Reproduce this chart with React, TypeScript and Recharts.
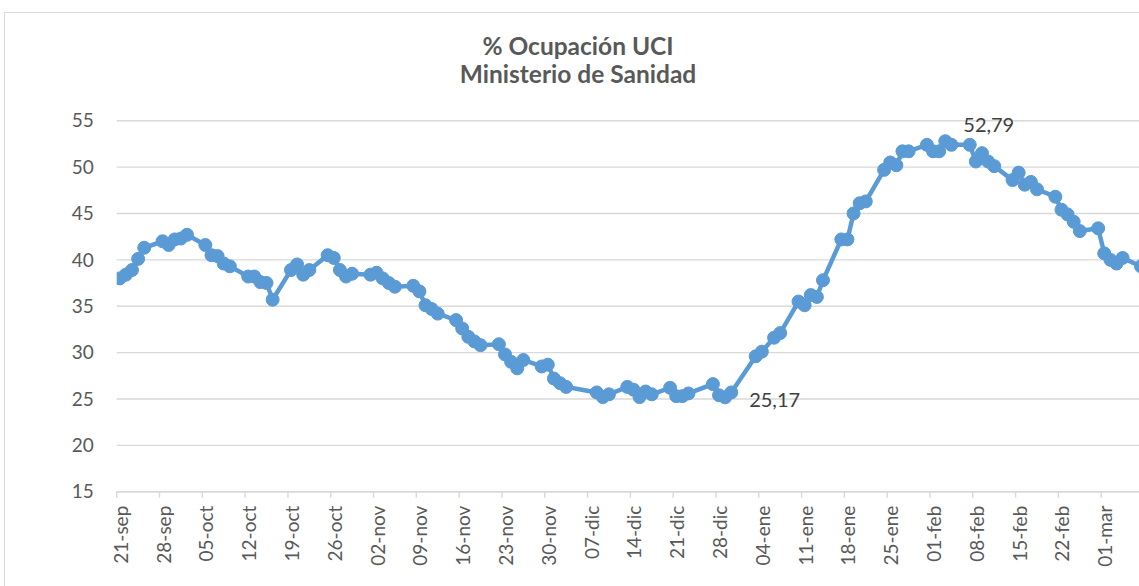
import { LineChart, Line, XAxis, YAxis, CartesianGrid, LabelList } from "recharts";

// % ocupación UCI, fechas de informe
const fechas = [
  "2020-09-21", "2020-09-22", "2020-09-23", "2020-09-24", "2020-09-25",
  "2020-09-28", "2020-09-29", "2020-09-30", "2020-10-01", "2020-10-02",
  "2020-10-05", "2020-10-06", "2020-10-07", "2020-10-08", "2020-10-09",
  "2020-10-12", "2020-10-13", "2020-10-14", "2020-10-15", "2020-10-16",
  "2020-10-19", "2020-10-20", "2020-10-21", "2020-10-22",
  "2020-10-25", "2020-10-26", "2020-10-27", "2020-10-28", "2020-10-29",
  "2020-11-01", "2020-11-02", "2020-11-03", "2020-11-04", "2020-11-05",
  "2020-11-08", "2020-11-09", "2020-11-10", "2020-11-11", "2020-11-12",
  "2020-11-15", "2020-11-16", "2020-11-17", "2020-11-18", "2020-11-19",
  "2020-11-22", "2020-11-23", "2020-11-24", "2020-11-25", "2020-11-26",
  "2020-11-29", "2020-11-30", "2020-12-01", "2020-12-02", "2020-12-03",
  "2020-12-08", "2020-12-09", "2020-12-10",
  "2020-12-13", "2020-12-14", "2020-12-15", "2020-12-16", "2020-12-17",
  "2020-12-20", "2020-12-21", "2020-12-22", "2020-12-23",
  "2020-12-27", "2020-12-28", "2020-12-29", "2020-12-30",
  "2021-01-03", "2021-01-04", "2021-01-06", "2021-01-07",
  "2021-01-10", "2021-01-11", "2021-01-12", "2021-01-13", "2021-01-14",
  "2021-01-17", "2021-01-18", "2021-01-19", "2021-01-20", "2021-01-21",
  "2021-01-24", "2021-01-25", "2021-01-26", "2021-01-27", "2021-01-28",
  "2021-01-31", "2021-02-01", "2021-02-02", "2021-02-03", "2021-02-04",
  "2021-02-07", "2021-02-08", "2021-02-09", "2021-02-10", "2021-02-11",
  "2021-02-14", "2021-02-15", "2021-02-16", "2021-02-17", "2021-02-18",
  "2021-02-21", "2021-02-22", "2021-02-23", "2021-02-24", "2021-02-25",
  "2021-02-28", "2021-03-01", "2021-03-02", "2021-03-03", "2021-03-04",
  "2021-03-07",
];

const ocupacion = [
  38.0, 38.4, 38.9, 40.1, 41.3,
  42.0, 41.6, 42.2, 42.3, 42.7,
  41.6, 40.5, 40.4, 39.6, 39.3,
  38.2, 38.2, 37.6, 37.5, 35.7,
  38.9, 39.5, 38.4, 38.9,
  40.5, 40.2, 38.9, 38.2, 38.5,
  38.4, 38.6, 38.0, 37.5, 37.1,
  37.2, 36.6, 35.1, 34.7, 34.2,
  33.5, 32.6, 31.7, 31.2, 30.8,
  30.9, 29.8, 29.0, 28.3, 29.2,
  28.5, 28.7, 27.2, 26.7, 26.3,
  25.7, 25.2, 25.5,
  26.3, 26.0, 25.2, 25.8, 25.5,
  26.2, 25.3, 25.3, 25.6,
  26.6, 25.4, 25.17, 25.7,
  29.6, 30.1, 31.6, 32.1,
  35.5, 35.1, 36.2, 36.0, 37.8,
  42.2, 42.2, 45.0, 46.1, 46.3,
  49.7, 50.5, 50.2, 51.7, 51.7,
  52.4, 51.7, 51.7, 52.79, 52.4,
  52.4, 50.6, 51.5, 50.6, 50.1,
  48.6, 49.4, 48.1, 48.4, 47.6,
  46.8, 45.4, 44.9, 44.1, 43.1,
  43.4, 40.7, 40.0, 39.6, 40.2,
  39.3,
];

const etiquetasX = [
  "21-sep", "28-sep", "05-oct", "12-oct", "19-oct", "26-oct", "02-nov", "09-nov",
  "16-nov", "23-nov", "30-nov", "07-dic", "14-dic", "21-dic", "28-dic", "04-ene",
  "11-ene", "18-ene", "25-ene", "01-feb", "08-feb", "15-feb", "22-feb", "01-mar",
];

const ticksY = [15, 20, 25, 30, 35, 40, 45, 50, 55];

const INICIO = Date.UTC(2020, 8, 21);
const DIA = 86400000;
const AZUL = "#5B9BD5";
const FUENTE = "Lato, 'Open Sans', sans-serif";

const data = fechas.map((f, i) => ({
  x: (Date.parse(f) - INICIO) / DIA + 0.5,
  valor: ocupacion[i],
}));

const iMin = ocupacion.indexOf(Math.min(...ocupacion));
const iMax = ocupacion.indexOf(Math.max(...ocupacion));
const fmt = (v: number) => v.toFixed(2).replace(".", ",");

function TickX(props: any) {
  const { x, y, payload } = props;
  const label = etiquetasX[Math.round(payload.value / 7)];
  return (
    <g transform={`translate(${x},${y}) rotate(-90)`}>
      <text x={0} y={0} dy={11} textAnchor="end" fill="#595959" fontSize={19} fontFamily={FUENTE}>
        {label}
      </text>
    </g>
  );
}

function EtiquetaDato(props: any) {
  const { x, y, index } = props;
  const style = { fontSize: 20, fontFamily: FUENTE, fill: "#404040" };
  if (index === iMin) return <text x={x + 24} y={y + 9.5} {...style}>{fmt(ocupacion[iMin])}</text>;
  if (index === iMax) return <text x={x + 18} y={y - 9} {...style}>{fmt(ocupacion[iMax])}</text>;
  return null;
}

export default function App() {
  const titulo = { position: "absolute" as const, left: 0, width: 1156, textAlign: "center" as const, fontFamily: FUENTE, fontWeight: 700, fontSize: 24.5, lineHeight: 1.2, color: "#595959" };
  return (
    <div style={{ position: "fixed", left: 0, top: 0, width: 1139, height: 586, overflow: "hidden", background: "#fff" }}>
      <div style={{ position: "absolute", left: 4, top: 12, width: 1200, height: 620, borderTop: "1.5px solid #d9d9d9", borderLeft: "1.5px solid #d9d9d9" }} />
      <div style={{ ...titulo, top: 30.8 }}>% Ocupación UCI</div>
      <div style={{ ...titulo, top: 59.1 }}>Ministerio de Sanidad</div>
      <div style={{ position: "absolute", left: 0, top: 0 }}>
        <LineChart width={1156.25} height={586} data={data} margin={{ top: 120.7, right: 0, bottom: 0, left: 0 }}>
          <CartesianGrid vertical={false} stroke="#d9d9d9" strokeWidth={1.4} />
          <XAxis
            type="number"
            dataKey="x"
            domain={[0, 170]}
            ticks={etiquetasX.map((_, i) => i * 7)}
            allowDataOverflow
            height={94.3}
            tickSize={6}
            tickMargin={8}
            stroke="#d9d9d9"
            axisLine={{ stroke: "#d9d9d9", strokeWidth: 1.4 }}
            tickLine={{ stroke: "#d9d9d9", strokeWidth: 1.4 }}
            tick={<TickX />}
            interval={0}
          />
          <YAxis
            type="number"
            domain={[15, 55]}
            ticks={ticksY}
            width={116.7}
            axisLine={false}
            tickLine={false}
            tickSize={6}
            tickMargin={17}
            tick={{ fill: "#595959", fontSize: 19, fontFamily: FUENTE }}
          />
          <Line
            type="linear"
            dataKey="valor"
            stroke={AZUL}
            strokeWidth={4.5}
            dot={{ r: 6.5, fill: AZUL, stroke: AZUL, strokeWidth: 1 }}
            activeDot={false}
            isAnimationActive={false}
          >
            <LabelList dataKey="valor" content={<EtiquetaDato />} />
          </Line>
        </LineChart>
      </div>
    </div>
  );
}
